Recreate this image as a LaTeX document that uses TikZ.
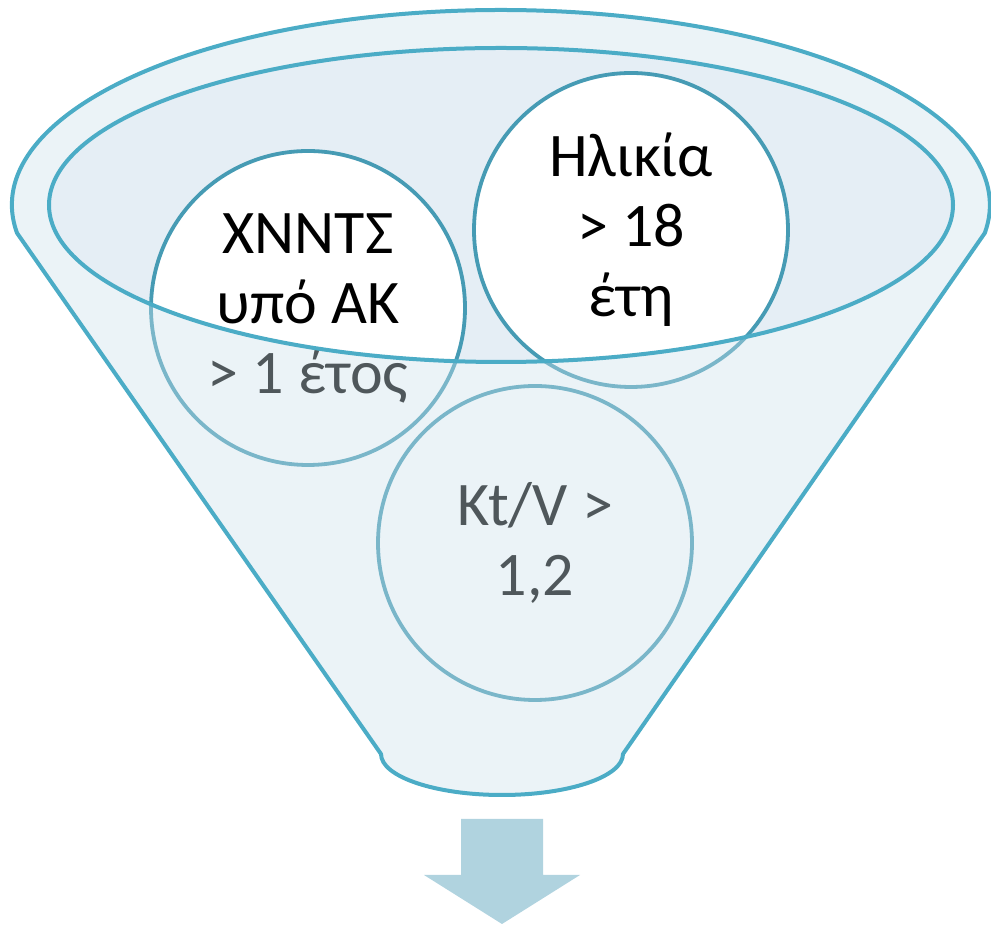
\documentclass[tikz,border=0pt]{standalone}
\usepackage{fontspec}
\setmainfont{Carlito}
\definecolor{funnelline}{RGB}{75,172,198}
\definecolor{bubbleline}{RGB}{70,155,180}
\definecolor{innerfill}{RGB}{229,238,245}
\definecolor{veil}{RGB}{205,226,236}
\definecolor{arrowfill}{RGB}{176,211,223}
\begin{document}
\begin{tikzpicture}[x=1pt,y=1pt,
  rim/.style={draw=funnelline, line width=4pt},
  bubble/.style={circle, minimum size=314pt, inner sep=0pt, draw=bubbleline,
    line width=3.8pt, fill=white, align=center, text=black,
    font=\fontsize{62}{70}\selectfont}]
\useasboundingbox (0,0) rectangle (991,926);
% white body of the funnel
\fill[white] (17,693) arc[start angle=188.26, end angle=-8.26, x radius=489, y radius=195]
  -- (623,172) arc[start angle=0, end angle=-180, x radius=121, y radius=41] -- cycle;
% inner opening
\fill[innerfill] (501,721) ellipse[x radius=452, y radius=157];
% bubbles
\node[bubble] (age) at (631,696) {Ηλικία\\> 18\\έτη};
\node[bubble] (hd) at (308,618) {ΧΝΝΤΣ\\υπό ΑΚ\\> 1 έτος};
\node[bubble] (ktv) at (535,383) {Kt/V >\\1,2};
% translucent front of the funnel
\fill[veil, fill opacity=0.39, even odd rule]
  (17,693) arc[start angle=188.26, end angle=-8.26, x radius=489, y radius=195]
  -- (623,172) arc[start angle=0, end angle=-180, x radius=121, y radius=41] -- cycle
  (501,721) ellipse[x radius=452, y radius=157];
% outlines
\draw[rim, line join=round] (17,693) arc[start angle=188.26, end angle=-8.26, x radius=489, y radius=195]
  -- (623,172) arc[start angle=0, end angle=-180, x radius=121, y radius=41] -- cycle;
\draw[rim] (501,721) ellipse[x radius=452, y radius=157];
% output arrow
\fill[arrowfill] (461,107) -- (543,107) -- (543,51) -- (580,51) -- (502,2) -- (424,51) -- (461,51) -- cycle;
\end{tikzpicture}
\end{document}
